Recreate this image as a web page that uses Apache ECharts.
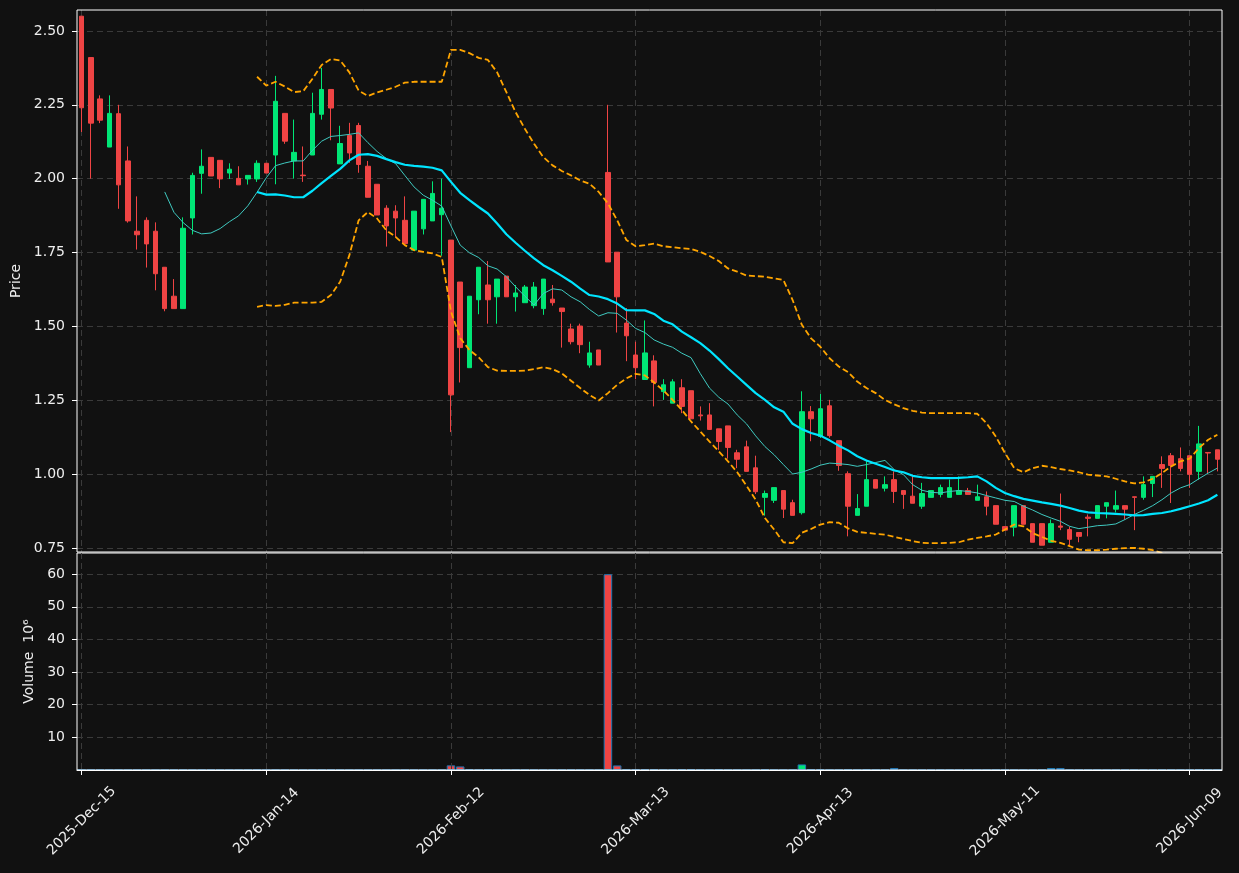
<!DOCTYPE html>
<html><head><meta charset="utf-8">
<script src="https://cdn.jsdelivr.net/npm/echarts@6/dist/echarts.min.js"></script>
<style>html,body{margin:0;padding:0;background:#111111;}#c{width:1239px;height:873px;}</style>
</head><body><div id="c"></div>
<script>
const dates = [
'2025-Dec-15','2025-Dec-16','2025-Dec-17','2025-Dec-18','2025-Dec-19','2025-Dec-22','2025-Dec-23','2025-Dec-24','2025-Dec-26','2025-Dec-29','2025-Dec-30','2025-Dec-31',
'2026-Jan-02','2026-Jan-05','2026-Jan-06','2026-Jan-07','2026-Jan-08','2026-Jan-09','2026-Jan-12','2026-Jan-13','2026-Jan-14','2026-Jan-15','2026-Jan-16','2026-Jan-20','2026-Jan-21','2026-Jan-22','2026-Jan-23','2026-Jan-26','2026-Jan-27','2026-Jan-28','2026-Jan-29','2026-Jan-30',
'2026-Feb-02','2026-Feb-03','2026-Feb-04','2026-Feb-05','2026-Feb-06','2026-Feb-09','2026-Feb-10','2026-Feb-11','2026-Feb-12','2026-Feb-13','2026-Feb-17','2026-Feb-18','2026-Feb-19','2026-Feb-20','2026-Feb-23','2026-Feb-24','2026-Feb-25','2026-Feb-26','2026-Feb-27',
'2026-Mar-02','2026-Mar-03','2026-Mar-04','2026-Mar-05','2026-Mar-06','2026-Mar-09','2026-Mar-10','2026-Mar-11','2026-Mar-12','2026-Mar-13','2026-Mar-16','2026-Mar-17','2026-Mar-18','2026-Mar-19','2026-Mar-20','2026-Mar-23','2026-Mar-24','2026-Mar-25','2026-Mar-26','2026-Mar-27','2026-Mar-30','2026-Mar-31',
'2026-Apr-01','2026-Apr-02','2026-Apr-06','2026-Apr-07','2026-Apr-08','2026-Apr-09','2026-Apr-10','2026-Apr-13','2026-Apr-14','2026-Apr-15','2026-Apr-16','2026-Apr-17','2026-Apr-20','2026-Apr-21','2026-Apr-22','2026-Apr-23','2026-Apr-24','2026-Apr-27','2026-Apr-28','2026-Apr-29','2026-Apr-30',
'2026-May-01','2026-May-04','2026-May-05','2026-May-06','2026-May-07','2026-May-08','2026-May-11','2026-May-12','2026-May-13','2026-May-14','2026-May-15','2026-May-18','2026-May-19','2026-May-20','2026-May-21','2026-May-22','2026-May-26','2026-May-27','2026-May-28','2026-May-29',
'2026-Jun-01','2026-Jun-02','2026-Jun-03','2026-Jun-04','2026-Jun-05','2026-Jun-08','2026-Jun-09','2026-Jun-10','2026-Jun-11','2026-Jun-12'];

const opens = [2.55,2.41,2.27,2.107,2.22,2.06,1.822,1.859,1.822,1.70, 1.602,1.56,1.867,2.018,2.072,2.062,2.019,2.001,1.999,1.999, 2.052,2.08,2.221,2.06,2.012,2.08,2.218,2.302,2.05,2.146, 2.18,2.042,1.981,1.90,1.89,1.859,1.758,1.83,1.857,1.878, 1.792,1.65,1.36,1.59,1.64,1.60,1.67,1.60,1.58,1.57, 1.56,1.592,1.562,1.491,1.501,1.369,1.42,2.021,1.751,1.511, 1.403,1.32,1.383,1.279,1.24,1.292,1.282,1.20,1.20,1.153, 1.163,1.072,1.092,1.021,0.921,0.911,0.944,0.903,0.869,1.211, 1.127,1.231,1.113,1.001,0.86,0.891,0.981,0.952,0.981,0.944, 0.925,0.891,0.921,0.931,0.921,0.931,0.944,0.911,0.923,0.893, 0.822,0.82,0.893,0.832,0.832,0.769,0.824,0.812,0.802,0.854, 0.85,0.891,0.881,0.893,0.923,0.921,0.968,1.032,1.062,1.052, 1.062,1.009,1.073,1.082];
const closes = [2.24,2.188,2.198,2.221,1.979,1.857,1.81,1.779,1.678,1.56, 1.56,1.832,2.011,2.042,2.009,1.999,2.032,1.979,2.011,2.052, 2.019,2.262,2.127,2.089,2.01,2.221,2.302,2.239,2.119,2.087, 2.048,1.937,1.877,1.84,1.867,1.78,1.89,1.93,1.95,1.90, 1.268,1.428,1.602,1.70,1.59,1.66,1.60,1.613,1.633,1.633, 1.66,1.58,1.55,1.448,1.438,1.41,1.369,1.718,1.60,1.468, 1.36,1.41,1.31,1.302,1.312,1.229,1.187,1.197,1.151,1.11, 1.09,1.05,1.009,0.94,0.934,0.954,0.881,0.86,1.211,1.187, 1.221,1.13,1.029,0.891,0.883,0.981,0.952,0.964,0.941,0.931, 0.901,0.934,0.944,0.954,0.954,0.944,0.931,0.923,0.891,0.83, 0.81,0.893,0.83,0.769,0.759,0.832,0.82,0.779,0.789,0.85, 0.893,0.903,0.893,0.881,0.921,0.964,0.992,1.019,1.029,1.019, 0.999,1.102,1.071,1.05];
const lows = [2.158,2.00,2.188,2.107,1.898,1.851,1.76,1.699,1.622,1.551, 1.56,1.56,1.811,1.949,2.009,1.968,1.999,1.979,1.98,1.989, 2.019,1.981,2.118,2.00,1.989,2.08,2.20,2.13,2.05,2.054, 2.02,1.937,1.877,1.77,1.801,1.78,1.758,1.811,1.857,1.739, 1.142,1.31,1.36,1.541,1.509,1.509,1.60,1.55,1.58,1.561, 1.539,1.57,1.428,1.439,1.409,1.36,1.369,1.718,1.479,1.382, 1.321,1.32,1.229,1.251,1.24,1.206,1.187,1.181,1.151,1.082, 1.052,1.02,1.009,0.932,0.859,0.902,0.851,0.86,0.863,1.111, 1.122,1.123,1.011,0.789,0.86,0.891,0.952,0.941,0.902,0.882, 0.901,0.882,0.921,0.921,0.921,0.931,0.931,0.911,0.86,0.83, 0.81,0.789,0.83,0.769,0.759,0.769,0.81,0.756,0.769,0.789, 0.85,0.85,0.87,0.846,0.81,0.913,0.922,0.953,0.902,1.009, 0.953,0.981,1.003,1.009];
const highs = [2.55,2.41,2.282,2.282,2.25,2.109,1.94,1.869,1.852,1.70, 1.66,1.869,2.02,2.099,2.072,2.062,2.052,2.042,2.011,2.062, 2.052,2.348,2.221,2.20,2.109,2.291,2.375,2.302,2.179,2.189, 2.189,2.06,1.981,1.91,1.91,1.94,1.89,1.93,1.991,2.00, 1.792,1.65,1.602,1.70,1.721,1.66,1.67,1.64,1.64,1.65, 1.66,1.64,1.562,1.509,1.509,1.448,1.42,2.25,1.751,1.562, 1.448,1.52,1.402,1.321,1.321,1.321,1.282,1.229,1.24,1.153, 1.163,1.082,1.113,1.062,0.944,0.954,0.944,0.913,1.28,1.23, 1.271,1.251,1.113,1.009,0.932,1.045,0.981,0.992,1.009,0.944, 0.992,0.97,0.944,0.964,0.981,0.992,0.953,0.964,0.941,0.893, 0.822,0.893,0.893,0.832,0.832,0.846,0.934,0.822,0.802,0.863, 0.893,0.903,0.944,0.893,0.923,0.992,0.992,1.06,1.071,1.09, 1.062,1.163,1.073,1.082];
// volume in millions
const volumes = [0.06,0.05,0.05,0.04,0.06,0.05,0.04,0.05,0.03,0.05, 0.05,0.06,0.05,0.04,0.04,0.03,0.04,0.03,0.03,0.04, 0.04,0.06,0.04,0.03,0.03,0.04,0.05,0.04,0.03,0.03, 0.04,0.04,0.03,0.04,0.03,0.04,0.04,0.04,0.05,0.06, 1.43,1.10,0.30,0.08,0.30,0.06,0.05,0.05,0.05,0.05, 0.05,0.05,0.06,0.06,0.05,0.06,0.06,60.0,1.40,0.20, 0.20,0.20,0.20,0.06,0.06,0.20,0.20,0.06,0.06,0.20, 0.06,0.05,0.05,0.06,0.20,0.06,0.06,0.06,1.70,0.20, 0.20,0.06,0.06,0.20,0.06,0.20,0.06,0.05,0.60,0.05, 0.05,0.05,0.04,0.05,0.05,0.04,0.05,0.04,0.05,0.06, 0.06,0.06,0.05,0.05,0.06,0.60,0.60,0.06,0.05,0.05, 0.05,0.04,0.05,0.04,0.06,0.06,0.05,0.06,0.06,0.06, 0.06,0.20,0.06,0.05];
const sma10 = [null,null,null,null,null,null,null,null,null,1.955, 1.886,1.851,1.825,1.813,1.816,1.831,1.854,1.874,1.908,1.954, 2.003,2.044,2.053,2.060,2.060,2.096,2.127,2.143,2.146,2.150, 2.155,2.122,2.092,2.068,2.051,2.011,1.972,1.944,1.927,1.907, 1.840,1.775,1.749,1.733,1.705,1.694,1.668,1.634,1.602,1.572, 1.611,1.627,1.623,1.600,1.583,1.557,1.535,1.546,1.544,1.521, 1.493,1.479,1.454,1.440,1.429,1.409,1.394,1.340,1.291,1.260, 1.237,1.200,1.170,1.129,1.093,1.065,1.032,1.000,1.006,1.017, 1.030,1.037,1.035,1.032,1.026,1.032,1.039,1.046,1.015,0.998, 0.964,0.945,0.938,0.936,0.941,0.944,0.941,0.936,0.927,0.919, 0.911,0.907,0.891,0.878,0.863,0.851,0.840,0.823,0.815,0.820, 0.825,0.827,0.831,0.846,0.863,0.877,0.893,0.913,0.936,0.953, 0.964,0.984,1.003,1.020];
const sma20 = [null,null,null,null,null,null,null,null,null,null, null,null,null,null,null,null,null,null,null,1.955, 1.946,1.947,1.943,1.937,1.937,1.959,1.985,2.009,2.033,2.062, 2.081,2.083,2.077,2.066,2.056,2.047,2.043,2.041,2.037,2.028, 1.989,1.952,1.927,1.904,1.882,1.848,1.812,1.783,1.756,1.730, 1.707,1.690,1.671,1.651,1.628,1.606,1.601,1.592,1.577,1.555, 1.554,1.554,1.542,1.519,1.507,1.482,1.463,1.443,1.418,1.389, 1.358,1.330,1.302,1.274,1.251,1.226,1.211,1.170,1.152,1.139, 1.130,1.114,1.096,1.080,1.060,1.046,1.035,1.024,1.012,1.006, 0.994,0.989,0.986,0.986,0.986,0.987,0.989,0.992,0.975,0.953, 0.936,0.925,0.916,0.910,0.904,0.899,0.893,0.885,0.876,0.870, 0.868,0.867,0.865,0.863,0.860,0.861,0.865,0.868,0.874,0.882, 0.891,0.900,0.911,0.930];
const bbUpper = [null,null,null,null,null,null,null,null,null,null, null,null,null,null,null,null,null,null,null,2.345, 2.315,2.328,2.312,2.293,2.296,2.338,2.385,2.405,2.400,2.360, 2.298,2.280,2.292,2.301,2.311,2.325,2.328,2.328,2.328,2.328, 2.436,2.436,2.425,2.409,2.402,2.360,2.293,2.225,2.169,2.118, 2.073,2.045,2.026,2.011,1.994,1.983,1.955,1.916,1.859,1.792, 1.771,1.775,1.780,1.771,1.768,1.764,1.762,1.752,1.738,1.721, 1.696,1.685,1.672,1.670,1.668,1.662,1.657,1.589,1.505,1.459, 1.431,1.392,1.364,1.345,1.313,1.291,1.274,1.251,1.236,1.223, 1.214,1.208,1.206,1.206,1.206,1.206,1.206,1.204,1.172,1.127, 1.071,1.020,1.006,1.020,1.028,1.023,1.017,1.012,1.006,0.998, 0.995,0.992,0.984,0.975,0.968,0.972,0.984,1.003,1.026,1.043, 1.052,1.088,1.116,1.133];
const bbLower = [null,null,null,null,null,null,null,null,null,null, null,null,null,null,null,null,null,null,null,1.566, 1.572,1.569,1.573,1.580,1.580,1.580,1.583,1.606,1.651,1.741, 1.859,1.887,1.865,1.825,1.803,1.775,1.758,1.752,1.747,1.735, 1.550,1.460,1.420,1.395,1.362,1.350,1.349,1.349,1.350,1.355, 1.362,1.355,1.341,1.316,1.291,1.268,1.249,1.274,1.302,1.324, 1.339,1.334,1.310,1.283,1.251,1.217,1.178,1.144,1.110,1.077, 1.043,1.006,0.961,0.913,0.851,0.812,0.769,0.766,0.801,0.814, 0.829,0.837,0.835,0.816,0.804,0.801,0.797,0.795,0.787,0.780, 0.773,0.767,0.766,0.766,0.767,0.769,0.778,0.784,0.789,0.795, 0.812,0.829,0.823,0.800,0.787,0.774,0.767,0.756,0.744,0.742, 0.742,0.744,0.747,0.749,0.750,0.747,0.742,0.733,0.726,0.721, 0.716,0.712,0.706,0.700];
const priceTicks = [0.75,1.00,1.25,1.50,1.75,2.00,2.25,2.50];
const volumeTicks = [10,20,30,40,50,60];

const UP = '#00e676', DOWN = '#ef4444';
const TXT = '#eeeeee', GRIDC = '#3a3a3a';
const FONT = 'DejaVu Sans';

const candleData = opens.map((o, i) => [o, closes[i], lows[i], highs[i]]);
const volData = volumes.map((v, i) => ({
  value: v,
  itemStyle: { color: closes[i] >= opens[i] ? UP : DOWN }
}));

const splitX = { show: true, interval: 19, alignWithLabel: true, lineStyle: { color: GRIDC, type: [6, 4], width: 1 } };
const splitY = { show: true, lineStyle: { color: GRIDC, type: [6, 4], width: 1 } };

const chart = echarts.init(document.getElementById('c'), null, { renderer: 'canvas' });
chart.setOption({
  backgroundColor: '#111111',
  animation: false,
  textStyle: { fontFamily: FONT },
  grid: [
    { left: 77, right: 17, top: 10, height: 542, show: true, borderColor: '#ffffff', borderWidth: 1, backgroundColor: 'transparent', z: 5 },
    { left: 77, right: 17, top: 553, height: 217, show: true, borderColor: '#ffffff', borderWidth: 1, backgroundColor: 'transparent', z: 5 }
  ],
  xAxis: [
    { type: 'category', gridIndex: 0, data: dates, boundaryGap: true,
      axisLine: { show: false }, axisTick: { show: false }, axisLabel: { show: false }, splitLine: splitX },
    { type: 'category', gridIndex: 1, data: dates, boundaryGap: true, z: 6,
      axisLine: { show: true, lineStyle: { color: '#ffffff', width: 1 } },
      axisTick: { show: true, interval: 19, alignWithLabel: true, length: 5, lineStyle: { color: '#ffffff' } },
      axisLabel: { show: true, interval: 19, rotate: 45, color: TXT, fontSize: 14, fontFamily: FONT, margin: 51,
                   align: 'center', verticalAlign: 'middle' },
      splitLine: splitX }
  ],
  yAxis: [
    { type: 'value', gridIndex: 0, min: 0.736, max: 2.571, scale: true,
      name: 'Price', nameLocation: 'middle', nameGap: 41, nameRotate: 90,
      nameTextStyle: { color: TXT, fontSize: 14, fontFamily: FONT },
      axisLine: { show: false },
      axisTick: { show: true, length: 5, lineStyle: { color: '#ffffff' }, customValues: priceTicks },
      axisLabel: { show: true, color: TXT, fontSize: 14, fontFamily: FONT, margin: 12, customValues: priceTicks, formatter: v => v.toFixed(2) },
      splitLine: splitY },
    { type: 'value', gridIndex: 1, min: 0, max: 66.5,
      name: 'Volume  10\u2076', nameLocation: 'middle', nameGap: 33, nameRotate: 90,
      nameTextStyle: { color: TXT, fontSize: 14, fontFamily: FONT },
      axisLine: { show: false },
      axisTick: { show: true, length: 5, lineStyle: { color: '#ffffff' }, customValues: volumeTicks },
      axisLabel: { show: true, color: TXT, fontSize: 14, fontFamily: FONT, margin: 12, customValues: volumeTicks },
      splitLine: splitY }
  ],
  series: [
    { type: 'candlestick', xAxisIndex: 0, yAxisIndex: 0, data: candleData, barWidth: 5,
      itemStyle: { color: UP, color0: DOWN, borderColor: UP, borderColor0: DOWN, borderWidth: 1 } },
    { type: 'line', xAxisIndex: 0, yAxisIndex: 0, data: sma10, showSymbol: false, symbol: 'none',
      lineStyle: { color: '#3fc9c0', width: 1 }, z: 3 },
    { type: 'line', xAxisIndex: 0, yAxisIndex: 0, data: sma20, showSymbol: false, symbol: 'none',
      lineStyle: { color: '#00e5ff', width: 2.2 }, z: 3 },
    { type: 'line', xAxisIndex: 0, yAxisIndex: 0, data: bbUpper, showSymbol: false, symbol: 'none',
      lineStyle: { color: '#ffa500', width: 1.8, type: [6, 3] }, z: 3 },
    { type: 'line', xAxisIndex: 0, yAxisIndex: 0, data: bbLower, showSymbol: false, symbol: 'none',
      lineStyle: { color: '#ffa500', width: 1.8, type: [6, 3] }, z: 3 },
    { type: 'bar', xAxisIndex: 1, yAxisIndex: 1, data: volData, barWidth: '92%',
      itemStyle: { borderColor: '#1f77b4', borderWidth: 1 } }
  ]
});
</script></body></html>
